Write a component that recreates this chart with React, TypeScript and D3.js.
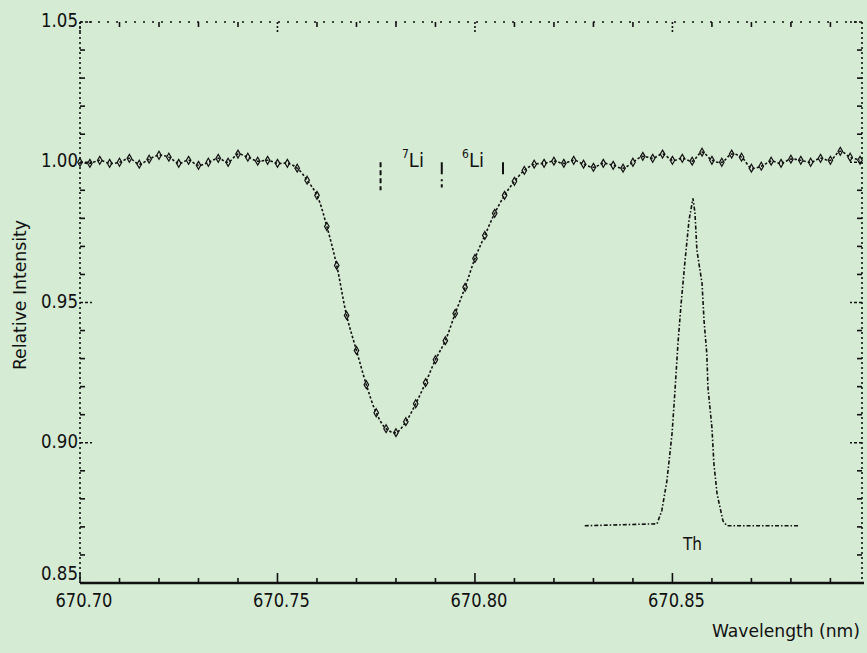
import React from "react";
import * as d3 from "d3";

const wavelengths = [
  670.7000, 670.7025, 670.7050, 670.7075, 670.7100, 670.7125, 670.7150, 670.7175, 670.7200, 670.7225,
  670.7250, 670.7275, 670.7300, 670.7325, 670.7350, 670.7375, 670.7400, 670.7425, 670.7450, 670.7475,
  670.7500, 670.7525, 670.7550, 670.7575, 670.7600, 670.7625, 670.7650, 670.7675, 670.7700, 670.7725,
  670.7750, 670.7775, 670.7800, 670.7825, 670.7850, 670.7875, 670.7900, 670.7925, 670.7950, 670.7975,
  670.8000, 670.8025, 670.8050, 670.8075, 670.8100, 670.8125, 670.8150, 670.8175, 670.8200, 670.8225,
  670.8250, 670.8275, 670.8300, 670.8325, 670.8350, 670.8375, 670.8400, 670.8425, 670.8450, 670.8475,
  670.8500, 670.8525, 670.8550, 670.8575, 670.8600, 670.8625, 670.8650, 670.8675, 670.8700, 670.8725,
  670.8750, 670.8775, 670.8800, 670.8825, 670.8850, 670.8875, 670.8900, 670.8925, 670.8950, 670.8975,
];

const intensity = [
  1.0000, 0.9996, 1.0007, 0.9996, 1.0000, 1.0014, 0.9993, 1.0011, 1.0025, 1.0018,
  0.9996, 1.0007, 0.9989, 1.0000, 1.0014, 1.0000, 1.0029, 1.0018, 1.0004, 1.0007,
  0.9996, 0.9996, 0.9979, 0.9936, 0.9882, 0.9771, 0.9632, 0.9454, 0.9329, 0.9207,
  0.9107, 0.9050, 0.9036, 0.9075, 0.9139, 0.9214, 0.9296, 0.9364, 0.9461, 0.9554,
  0.9657, 0.9739, 0.9818, 0.9882, 0.9932, 0.9971, 0.9993, 0.9996, 1.0004, 0.9996,
  1.0007, 0.9993, 0.9982, 0.9996, 0.9989, 0.9979, 1.0000, 1.0021, 1.0014, 1.0029,
  1.0007, 1.0014, 1.0004, 1.0036, 1.0007, 1.0000, 1.0029, 1.0018, 0.9979, 0.9986,
  1.0004, 0.9996, 1.0011, 1.0007, 1.0000, 1.0014, 1.0007, 1.0039, 1.0018, 1.0007,
];

// Th comparison (instrumental) profile
const thWavelengths = [
  670.8278, 670.8461, 670.8473, 670.8486, 670.8499, 670.8506, 670.8514, 670.8522, 670.8532, 670.8542,
  670.8552, 670.8557, 670.8562, 670.8575, 670.8580, 670.8587, 670.8590, 670.8600, 670.8605, 670.8613,
  670.8628, 670.8638, 670.8818,
];
const thIntensity = [
  0.8704, 0.8711, 0.8757, 0.8864, 0.9032, 0.9175, 0.9354, 0.9496, 0.9650, 0.9793,
  0.9871, 0.9821, 0.9686, 0.9568, 0.9436, 0.9318, 0.9196, 0.9054, 0.8925, 0.8818,
  0.8721, 0.8704, 0.8704,
];

// Li line positions and tick depths
const liLines = [670.7761, 670.7916, 670.8071];
const liTickEnds = [0.990, 0.991, 0.9954];
const liLabels = [
  { mass: "7", wl: 670.7843 },
  { mass: "6", wl: 670.7995 },
];

const xMajorTicks = [670.70, 670.75, 670.80, 670.85];
const xMajorLabels = ["670.70", "670.75", "670.80", "670.85"];
const yMajorTicks = [0.85, 0.90, 0.95, 1.00, 1.05];
const yMajorLabels = ["0.85", "0.90", "0.95", "1.00", "1.05"];
const xMinorTicks = [670.71, 670.72, 670.73, 670.74, 670.76, 670.77, 670.78, 670.79, 670.81, 670.82, 670.83, 670.84, 670.86, 670.87, 670.88, 670.89];
const yMinorTicks = [0.86, 0.87, 0.88, 0.89, 0.91, 0.92, 0.93, 0.94, 0.96, 0.97, 0.98, 0.99, 1.01, 1.02, 1.03, 1.04];

const W = 867;
const H = 653;
const L = 80, R = 862, T = 22, B = 583;

export default function App() {
  const x = d3.scaleLinear().domain([670.70, 670.898]).range([L, R]);
  const y = d3.scaleLinear().domain([0.85, 1.05]).range([B, T]);

  const obs = wavelengths.map((w, i) => [x(w), y(intensity[i])] as [number, number]);
  const th = thWavelengths.map((w, i) => [x(w), y(thIntensity[i])] as [number, number]);
  const lineGen = d3.line<[number, number]>().curve(d3.curveCatmullRom);
  const thLine = d3.line<[number, number]>();
  const diamond = d3.symbol().type(d3.symbolDiamond).size(18)() as string;

  const font = "'Liberation Sans Narrow', 'DejaVu Sans Condensed', 'Liberation Sans', Arial, sans-serif";

  return (
    <svg width={W} height={H} style={{ position: "absolute", left: 0, top: 0, display: "block" }}>
      <rect x={0} y={0} width={W} height={H} fill="#d6ebd4" />
      {/* frame */}
      <line x1={L} x2={R} y1={T} y2={T} stroke="#111" strokeWidth={1.6} strokeDasharray="2 7" />
      <line x1={L} x2={L} y1={T} y2={B} stroke="#111" strokeWidth={1.6} strokeDasharray="2 3" />
      <line x1={R} x2={R} y1={T} y2={B} stroke="#111" strokeWidth={1.6} strokeDasharray="2 3" />
      <line x1={L} x2={R + 2} y1={B} y2={B} stroke="#111" strokeWidth={2.6} />

      {/* x ticks */}
      {xMajorTicks.map((t) => (
        <g key={"xm" + t}>
          <line x1={x(t)} x2={x(t)} y1={B} y2={B - 10} stroke="#111" strokeWidth={1.6} />
          <line x1={x(t)} x2={x(t)} y1={T} y2={T + 10} stroke="#111" strokeWidth={1.6} strokeDasharray="2 2" />
        </g>
      ))}
      {xMinorTicks.map((t) => (
        <g key={"xn" + t}>
          <line x1={x(t)} x2={x(t)} y1={B} y2={B - 5} stroke="#111" strokeWidth={1.6} />
          <line x1={x(t)} x2={x(t)} y1={T} y2={T + 5} stroke="#111" strokeWidth={1.6} />
        </g>
      ))}
      {/* y ticks */}
      {yMajorTicks.map((t) => (
        <g key={"ym" + t}>
          <line x1={L} x2={L + 12} y1={y(t)} y2={y(t)} stroke="#111" strokeWidth={1.6} strokeDasharray="3 2" />
          <line x1={R} x2={R - 12} y1={y(t)} y2={y(t)} stroke="#111" strokeWidth={1.6} strokeDasharray="3 2" />
        </g>
      ))}
      {yMinorTicks.map((t) => (
        <g key={"yn" + t}>
          <line x1={L} x2={L + 5} y1={y(t)} y2={y(t)} stroke="#111" strokeWidth={1.6} />
          <line x1={R} x2={R - 5} y1={y(t)} y2={y(t)} stroke="#111" strokeWidth={1.6} />
        </g>
      ))}

      {/* tick labels */}
      {xMajorTicks.map((t, i) => (
        <text key={"xl" + t} x={x(t) + 4} y={607} textAnchor="middle" fontFamily={font} fontSize={20}
          textLength={57} lengthAdjust="spacingAndGlyphs" fill="#111">{xMajorLabels[i]}</text>
      ))}
      {yMajorTicks.map((t, i) => (
        <text key={"yl" + t} x={L - 2} y={i === 0 ? 580 : y(t) + 5} textAnchor="end" fontFamily={font} fontSize={20}
          textLength={37} lengthAdjust="spacingAndGlyphs" fill="#111">{yMajorLabels[i]}</text>
      ))}

      {/* axis titles */}
      <text x={712} y={637} fontFamily={font} fontSize={18} textLength={148} lengthAdjust="spacingAndGlyphs" fill="#111">Wavelength (nm)</text>
      <text transform="translate(26,295) rotate(-90)" textAnchor="middle" fontFamily={font} fontSize={18}
        textLength={150} lengthAdjust="spacingAndGlyphs" fill="#111">Relative Intensity</text>

      {/* Li line markers */}
      {liLines.map((w, i) => (
        <line key={"li" + i} x1={x(w)} x2={x(w)} y1={y(1.0)} y2={y(liTickEnds[i])} stroke="#111" strokeWidth={2}
          strokeDasharray={i === 0 ? "5 3" : "12 5 2 3"} />
      ))}
      {liLabels.map((l) => (
        <text key={"ll" + l.mass} x={x(l.wl)} y={167} textAnchor="middle" fontFamily={font} fontSize={20} fill="#111">
          <tspan fontSize={12} dy={-9}>{l.mass}</tspan>
          <tspan dy={9}>Li</tspan>
        </text>
      ))}

      {/* Th instrumental profile */}
      <path d={thLine(th) || ""} fill="none" stroke="#111" strokeWidth={1.6} strokeDasharray="4 2 1.5 2" />
      <text x={x(670.8551)} y={550} textAnchor="middle" fontFamily={font} fontSize={17} fill="#111">Th</text>

      {/* observed spectrum */}
      <path d={lineGen(obs) || ""} fill="none" stroke="#111" strokeWidth={1.6} strokeDasharray="2.5 2" />
      {obs.map((p, i) => (
        <path key={"o" + i} d={diamond} transform={`translate(${p[0]},${p[1]})`} fill="none" stroke="#111" strokeWidth={1.2} />
      ))}
    </svg>
  );
}
